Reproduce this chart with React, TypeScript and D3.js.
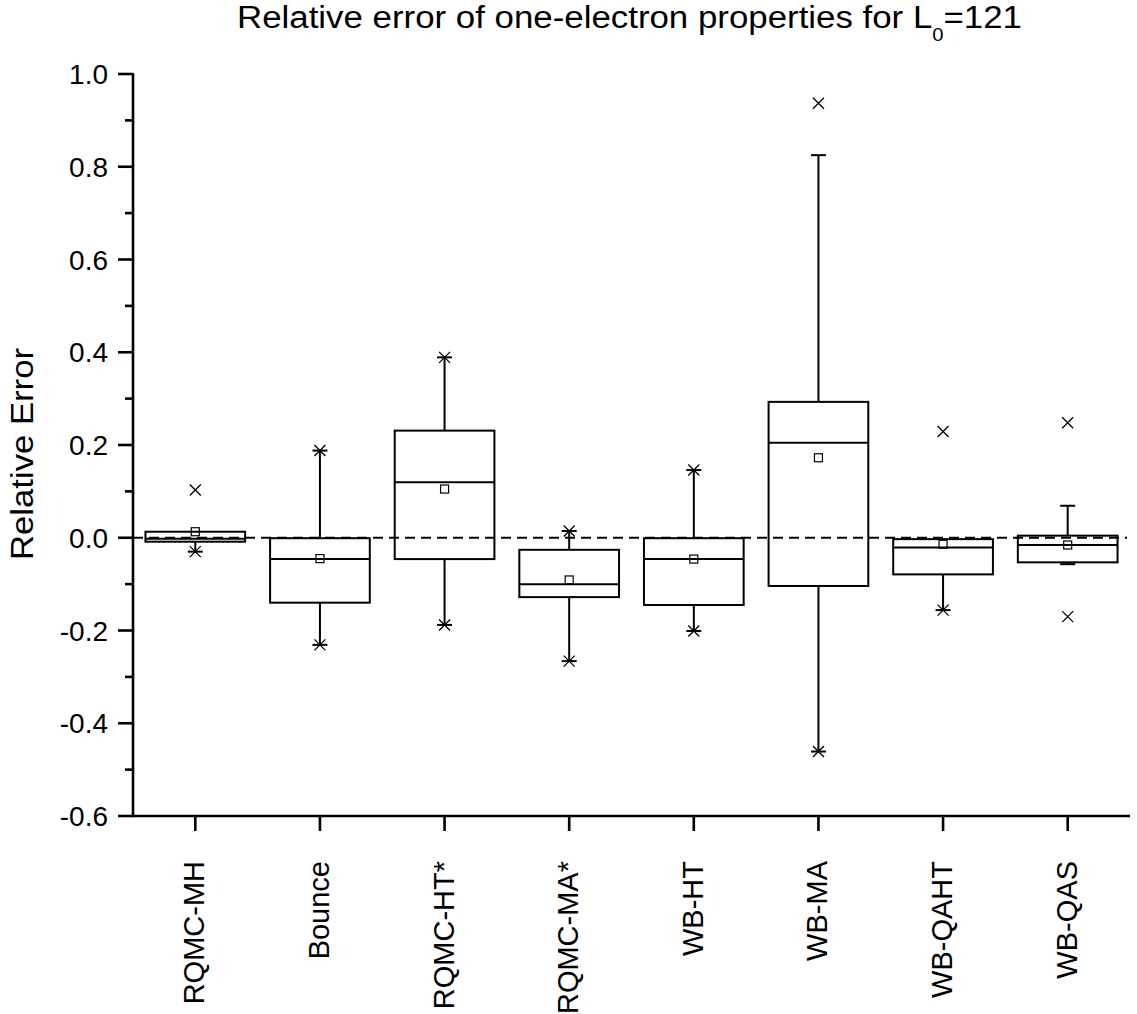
import React from "react";
import * as d3 from "d3";

// one entry per method
const CATEGORIES = ["RQMC-MH", "Bounce", "RQMC-HT*", "RQMC-MA*", "WB-HT", "WB-MA", "WB-QAHT", "WB-QAS"];
const Q1 = [-0.0085, -0.14, -0.046, -0.128, -0.145, -0.104, -0.079, -0.053];
const MEDIAN = [-0.002, -0.046, 0.1195, -0.1005, -0.046, 0.205, -0.021, -0.0156];
const Q3 = [0.013, -0.001, 0.231, -0.026, -0.001, 0.293, -0.003, 0.0045];
const MEAN = [0.013, -0.045, 0.105, -0.091, -0.046, 0.1725, -0.014, -0.0156];
const WHISKER_LOW = [-0.03, -0.231, -0.188, -0.266, -0.201, -0.461, -0.156, -0.057];
const WHISKER_HIGH = [0.013, 0.188, 0.389, 0.0145, 0.146, 0.825, -0.003, 0.069];
const P_LOW = [-0.03, -0.231, -0.188, -0.266, -0.201, -0.461, -0.156, -0.17];
const P_HIGH = [0.103, 0.188, 0.389, 0.0145, 0.146, 0.937, 0.229, 0.248];
const Y_TICKS = [-0.6, -0.4, -0.2, 0.0, 0.2, 0.4, 0.6, 0.8, 1.0];
const Y_MINOR = [-0.5, -0.3, -0.1, 0.1, 0.3, 0.5, 0.7, 0.9];

const WIDTH = 1137;
const HEIGHT = 1014;
const LEFT = 133;
const RIGHT = 1130;
const TOP = 74;
const BOTTOM = 816;
const FONT = "'Liberation Sans', Arial, Helvetica, sans-serif";

const x = d3.scaleBand().domain(CATEGORIES).range([LEFT, RIGHT]).paddingInner(0.2).paddingOuter(0.1);
const y = d3.scaleLinear().domain([-0.6, 1.0]).range([BOTTOM, TOP]);

function Cross({ cx, cy }: { cx: number; cy: number }) {
  const r = 5.5;
  return (
    <path
      d={`M${cx - r},${cy - r}L${cx + r},${cy + r}M${cx - r},${cy + r}L${cx + r},${cy - r}`}
      stroke="#000"
      strokeWidth={1.3}
      fill="none"
    />
  );
}

export default function App() {
  const bw = x.bandwidth();
  const cap = 7.5;
  return (
    <svg
      width={WIDTH}
      height={HEIGHT}
      style={{ position: "absolute", left: 0, top: 0, background: "#fff" }}
      fontFamily={FONT}
    >
      {/* title */}
      <text x={237} y={28} fontSize={31} fill="#000" textLength={785} lengthAdjust="spacingAndGlyphs">
        Relative error of one-electron properties for L
        <tspan fontSize={18} dy={13}>0</tspan>
        <tspan dy={-13}>=121</tspan>
      </text>

      {/* y label */}
      <text
        transform={`translate(33,560) rotate(-90)`}
        fontSize={31}
        fill="#000"
        textLength={212}
        lengthAdjust="spacingAndGlyphs"
      >
        Relative Error
      </text>

      {/* zero reference line */}
      <line x1={LEFT} x2={RIGHT - 3} y1={y(0)} y2={y(0)} stroke="#000" strokeWidth={2} strokeDasharray="10,6" />

      {/* boxes */}
      {CATEGORIES.map((c, i) => {
        const x0 = x(c)!;
        const cx = x0 + bw / 2;
        return (
          <g key={c} stroke="#000" fill="none">
            {WHISKER_HIGH[i] > Q3[i] && (
              <>
                <line x1={cx} x2={cx} y1={y(Q3[i])} y2={y(WHISKER_HIGH[i])} strokeWidth={2} />
                <line x1={cx - cap} x2={cx + cap} y1={y(WHISKER_HIGH[i])} y2={y(WHISKER_HIGH[i])} strokeWidth={2} />
              </>
            )}
            {WHISKER_LOW[i] < Q1[i] && (
              <>
                <line x1={cx} x2={cx} y1={y(Q1[i])} y2={y(WHISKER_LOW[i])} strokeWidth={2} />
                <line x1={cx - cap} x2={cx + cap} y1={y(WHISKER_LOW[i])} y2={y(WHISKER_LOW[i])} strokeWidth={2} />
              </>
            )}
            <rect x={x0} y={y(Q3[i])} width={bw} height={y(Q1[i]) - y(Q3[i])} strokeWidth={2} />
            <line x1={x0} x2={x0 + bw} y1={y(MEDIAN[i])} y2={y(MEDIAN[i])} strokeWidth={2} />
            <rect x={cx - 4} y={y(MEAN[i]) - 4} width={8} height={8} strokeWidth={1.2} />
            <Cross cx={cx} cy={y(P_LOW[i])} />
            <Cross cx={cx} cy={y(P_HIGH[i])} />
          </g>
        );
      })}

      {/* y axis */}
      <line x1={LEFT} x2={LEFT} y1={TOP - 1} y2={BOTTOM + 1} stroke="#000" strokeWidth={2.6} />
      {Y_TICKS.map((t) => (
        <g key={t}>
          <line x1={LEFT - 15} x2={LEFT} y1={y(t)} y2={y(t)} stroke="#000" strokeWidth={2.6} />
          <text x={108} y={y(t)} dy="0.36em" fontSize={28} textAnchor="end" fill="#000">
            {d3.format(".1f")(t).replace("−", "-")}
          </text>
        </g>
      ))}
      {Y_MINOR.map((t) => (
        <line key={t} x1={LEFT - 8} x2={LEFT} y1={y(t)} y2={y(t)} stroke="#000" strokeWidth={2.6} />
      ))}

      {/* x axis */}
      <line x1={LEFT - 1} x2={RIGHT} y1={BOTTOM} y2={BOTTOM} stroke="#000" strokeWidth={2.6} />
      {CATEGORIES.map((c) => {
        const cx = x(c)! + bw / 2;
        return (
          <g key={c}>
            <line x1={cx} x2={cx} y1={BOTTOM} y2={BOTTOM + 15} stroke="#000" strokeWidth={2.6} />
            <text
              transform={`translate(${cx + 9},861) rotate(-90)`}
              fontSize={29}
              textAnchor="end"
              fill="#000"
            >
              {c}
            </text>
          </g>
        );
      })}
    </svg>
  );
}
